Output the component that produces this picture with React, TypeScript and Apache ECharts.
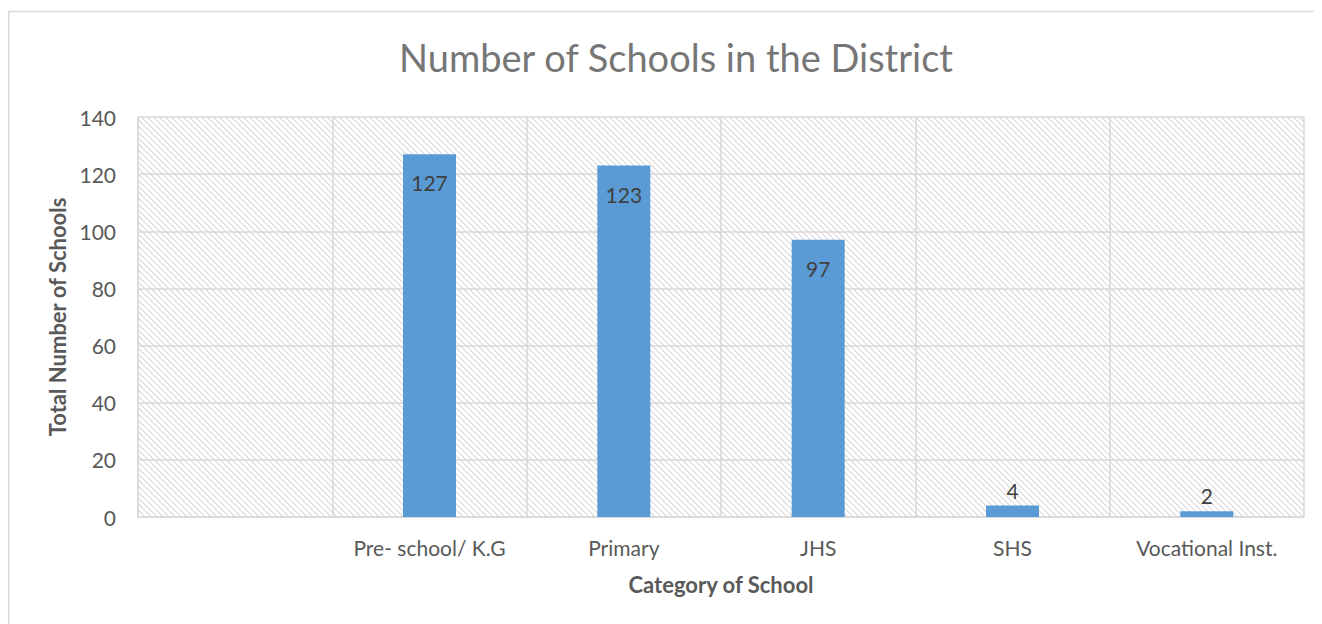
import React, { useEffect, useRef } from "react";
import * as echarts from "echarts";

const categories = ["", "Pre- school/ K.G", "Primary", "JHS", "SHS", "Vocational Inst."];
const schoolCounts: (number | null)[] = [null, 127, 123, 97, 4, 2];
const yTicks = { min: 0, max: 140, interval: 20 };
const insideLabelThreshold = 20;

function makeHatch(): string {
  const n = 6;
  const c = document.createElement("canvas");
  c.width = n;
  c.height = n;
  const ctx = c.getContext("2d")!;
  ctx.fillStyle = "#ffffff";
  ctx.fillRect(0, 0, n, n);
  for (let i = 0; i < n; i++) {
    ctx.fillStyle = "#d8d8d8";
    ctx.fillRect(i, i, 1, 1);
    ctx.fillStyle = "#ececec";
    ctx.fillRect((i + 1) % n, i, 1, 1);
  }
  return c.toDataURL();
}

export default function App() {
  const ref = useRef<HTMLDivElement>(null);
  useEffect(() => {
    if (!ref.current) return;
    document.documentElement.style.overflow = "hidden";
    const chart = echarts.init(ref.current, null, { renderer: "svg" });
    const hatch = makeHatch();
    const font = "Lato, 'Open Sans', sans-serif";
    chart.setOption({
      animation: false,
      textStyle: { fontFamily: font },
      title: {
        text: "Number of Schools in the District",
        left: 663,
        textAlign: "center",
        top: 25,
        textStyle: { fontFamily: font, fontSize: 38, fontWeight: "normal", color: "#767676" },
      },
      graphic: [
        {
          type: "line",
          shape: { x1: 0, y1: 3.5, x2: 1314, y2: 3.5 },
          style: { stroke: "#d9d9d9", lineWidth: 1.5 },
          silent: true,
          z: -10,
        },
        {
          type: "line",
          shape: { x1: 0.75, y1: 3.5, x2: 0.75, y2: 616 },
          style: { stroke: "#d9d9d9", lineWidth: 1.5 },
          silent: true,
          z: -10,
        },
      ],
      grid: {
        left: 130,
        top: 109,
        right: 18,
        bottom: 107,
        show: true,
        borderWidth: 0,
        backgroundColor: { image: hatch, repeat: "repeat" } as any,
      },
      xAxis: {
        type: "category",
        data: categories,
        name: "Category of School",
        nameLocation: "middle",
        nameGap: 56,
        nameTextStyle: { fontFamily: font, fontSize: 22, fontWeight: "bold", color: "#595959" },
        axisLine: { show: true, lineStyle: { color: "#d9d9d9", width: 1.5 } },
        axisTick: { show: false },
        axisLabel: { interval: 0, hideOverlap: false, fontFamily: font, fontSize: 21, color: "#595959", margin: 20 },
        splitLine: { show: true, interval: 0, lineStyle: { color: "#d9d9d9", width: 1.5 } },
      },
      yAxis: {
        type: "value",
        min: yTicks.min,
        max: yTicks.max,
        interval: yTicks.interval,
        name: "Total Number of Schools",
        nameLocation: "middle",
        nameGap: 70,
        nameRotate: 90,
        nameTextStyle: { fontFamily: font, fontSize: 22, fontWeight: "bold", color: "#595959" },
        axisLine: { show: true, lineStyle: { color: "#d9d9d9", width: 1.5 } },
        axisTick: { show: false },
        axisLabel: { fontFamily: font, fontSize: 21, color: "#595959", margin: 22 },
        splitLine: { show: true, lineStyle: { color: "#d9d9d9", width: 1.5 } },
      },
      series: [
        {
          type: "bar",
          barWidth: 53,
          itemStyle: { color: "#5B9BD5" },
          data: schoolCounts.map((v) =>
            v == null
              ? null
              : {
                  value: v,
                  label: {
                    show: true,
                    position: v > insideLabelThreshold ? "insideTop" : "top",
                    distance: v > insideLabelThreshold ? 18 : 5,
                    fontFamily: font,
                    fontSize: 21,
                    color: "#404040",
                  },
                }
          ),
        },
      ],
    });
    return () => chart.dispose();
  }, []);
  return <div ref={ref} style={{ width: 1314, height: 616 }} />;
}
